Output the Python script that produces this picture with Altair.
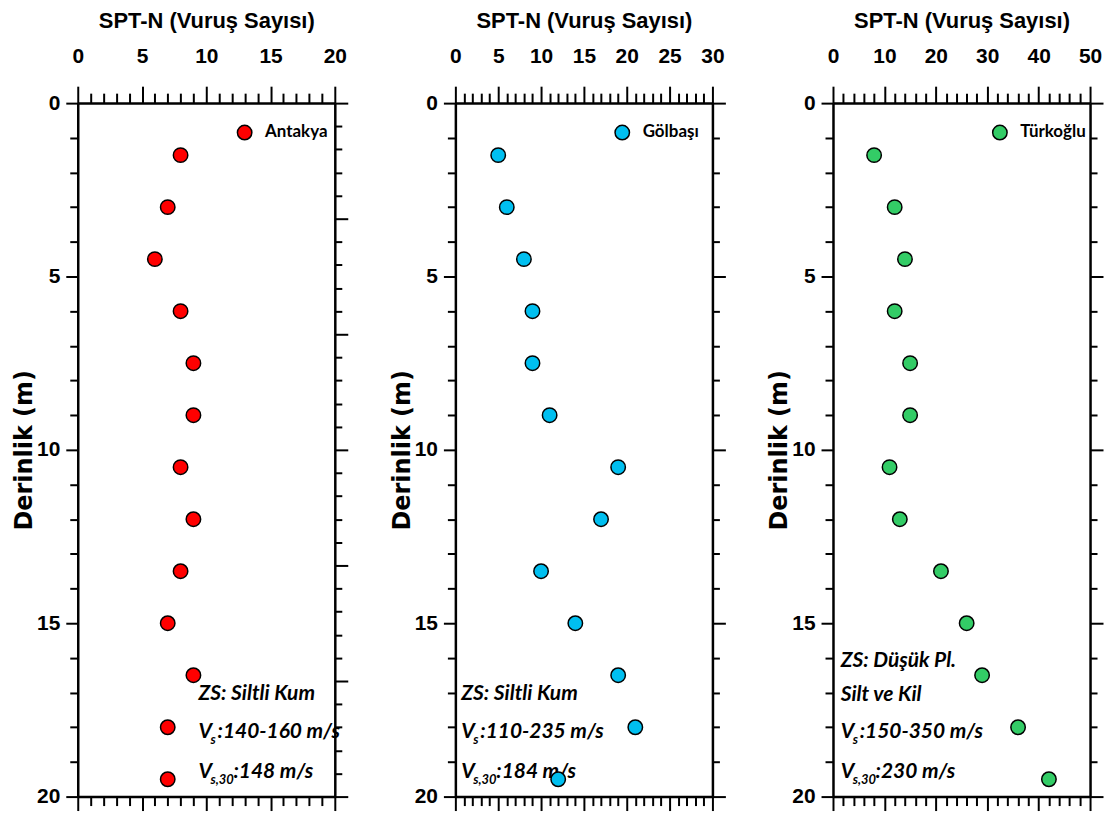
import altair as alt
import pandas as pd

# ---------------- data ----------------
depths = [1.5, 3, 4.5, 6, 7.5, 9, 10.5, 12, 13.5, 15, 16.5, 18, 19.5]
antakya_n = [8, 7, 6, 8, 9, 9, 8, 9, 8, 7, 9, 7, 7]
golbasi_n = [5, 6, 8, 9, 9, 11, 19, 17, 10, 14, 19, 21, 12]
turkoglu_n = [8, 12, 14, 12, 15, 15, 11, 13, 21, 26, 29, 36, 42]

sites = ["Antakya", "Gölbaşı", "Türkoğlu"]
colors = ["#FF0000", "#00BFF0", "#33CC66"]
x_max = [20, 30, 50]
x_minor_step = [1, 1, 2]
x_major_step = [5, 5, 10]

zs_lines = [["ZS: Siltli Kum"], ["ZS: Siltli Kum"], ["ZS: Düşük Pl.", "Silt ve Kil"]]
zs_depths = [[17.05], [17.05], [16.1, 17.07]]
vs_text = [":140-160 m/s", ":110-235 m/s", ":150-350 m/s"]
vs30_text = [":148 m/s", ":184 m/s", ":230 m/s"]
text_x = [9.4, 0.7, 1.5]
vs_depth = 18.13
vs30_depth = 19.3

AXFONT = "Liberation Sans, Arial, sans-serif"
WIDE = "DejaVu Sans"
HUMAN = "Lato, sans-serif"


def cond(test, big, small):
    return {"condition": {"test": test, "value": big}, "value": small}


def panel(i, n_values):
    df = pd.DataFrame({"n": n_values, "depth": depths, "site": sites[i]})
    xs = alt.Scale(domain=[0, x_max[i]], nice=False, zero=True)
    ys = alt.Scale(domain=[0, 20], reverse=True, nice=False)
    xvals = list(range(0, x_max[i] + 1, x_minor_step[i]))
    mj = x_major_step[i]

    top_axis = alt.Axis(
        orient="top", values=xvals, title="SPT-N (Vuruş Sayısı)",
        tickSize=cond(f"datum.value % {mj} === 0", 17, 10),
        labelExpr=f"datum.value % {mj} === 0 ? datum.label : ''",
        labelOverlap=False, labelFlush=False, labelPadding=20,
        labelFont=AXFONT, labelFontSize=21, labelFontWeight="bold",
        titleFont=AXFONT, titleFontSize=22, titleFontWeight="bold",
        titlePadding=13,
    )
    bottom_axis = alt.Axis(
        orient="bottom", values=xvals, title=None, labels=False,
        tickSize=cond(f"datum.value % {mj} === 0", 14, 9),
    )
    left_axis = alt.Axis(
        orient="left", values=list(range(0, 21)), title="Derinlik (m)",
        tickSize=cond("datum.value % 5 === 0", 12, 8),
        labelExpr="datum.value % 5 === 0 ? datum.label : ''",
        labelOverlap=False, labelFlush=False, labelPadding=6,
        labelFont=AXFONT, labelFontSize=21, labelFontWeight="bold",
        titleFont=WIDE, titleFontSize=24, titleFontWeight="bold",
        titlePadding=0,
    )
    if i == 0:
        rvals = [k * 20 / 30 for k in range(31)]
        rtest = "round(datum.value * 1.5) % 5 === 0"
    else:
        rvals = list(range(0, 21))
        rtest = "datum.value % 5 === 0"
    right_axis = alt.Axis(
        orient="right", values=rvals, title=None, labels=False,
        tickSize=cond(rtest, 13, 7),
    )

    frame = alt.Chart(df).mark_point(opacity=0).encode(
        x=alt.X("n:Q", scale=xs, axis=bottom_axis),
        y=alt.Y("depth:Q", scale=ys, axis=right_axis),
    )

    plain_txt = zs_lines[i] + ["V", "V"]
    plain_dep = zs_depths[i] + [vs_depth, vs30_depth]
    plain_df = pd.DataFrame({"t": plain_txt, "depth": plain_dep, "n": text_x[i]})
    tstyle = dict(font=HUMAN, fontSize=21, fontWeight="bold", fontStyle="italic",
                  align="left", baseline="middle", color="black")
    enc = dict(x=alt.X("n:Q", scale=xs, axis=None), y=alt.Y("depth:Q", scale=ys, axis=None), text="t:N")
    plain = alt.Chart(plain_df).mark_text(**tstyle).encode(**enc)
    sub_style = dict(tstyle, fontSize=13, dy=8)
    sub1 = alt.Chart(pd.DataFrame({"t": ["s"], "depth": [vs_depth], "n": [text_x[i]]})).mark_text(
        dx=12, **sub_style).encode(**enc)
    sub2 = alt.Chart(pd.DataFrame({"t": ["s,30"], "depth": [vs30_depth], "n": [text_x[i]]})).mark_text(
        dx=12, **sub_style).encode(**enc)
    rest1 = alt.Chart(pd.DataFrame({"t": [vs_text[i]], "depth": [vs_depth], "n": [text_x[i]]})).mark_text(
        dx=19, **tstyle).encode(**enc)
    rest2 = alt.Chart(pd.DataFrame({"t": [vs30_text[i]], "depth": [vs30_depth], "n": [text_x[i]]})).mark_text(
        dx=35, **tstyle).encode(**enc)

    pts = alt.Chart(df).mark_circle(size=210, opacity=1, stroke="black", strokeWidth=1.5).encode(
        x=alt.X("n:Q", scale=xs, axis=top_axis),
        y=alt.Y("depth:Q", scale=ys, axis=left_axis),
        color=alt.Color(
            "site:N",
            scale=alt.Scale(domain=[sites[i]], range=[colors[i]]),
            legend=alt.Legend(
                orient="none", legendX=159, legendY=21, title=None, padding=0,
                labelFont=HUMAN, labelFontSize=17, labelFontWeight="bold",
                labelColor="black", labelOffset=12,
                symbolType="circle", symbolSize=210, symbolOpacity=1,
                symbolStrokeColor="black", symbolStrokeWidth=1.5,
            ),
        ),
    )

    return alt.layer(frame, plain, sub1, sub2, rest1, rest2, pts).resolve_axis(
        x="independent", y="independent"
    ).properties(width=258, height=696)


chart = alt.hconcat(
    panel(0, antakya_n), panel(1, golbasi_n), panel(2, turkoglu_n),
    spacing=121, bounds="flush",
).resolve_scale(color="independent").configure_view(stroke=None).configure_axis(
    domainColor="black", domainWidth=2.5, tickColor="black", tickWidth=2,
    grid=False, labelColor="black", titleColor="black",
).properties(background="white", padding={"left": 4, "top": 0, "right": 0, "bottom": 0})

chart.save("out.html", embed_options={"renderer": "svg", "actions": False})
